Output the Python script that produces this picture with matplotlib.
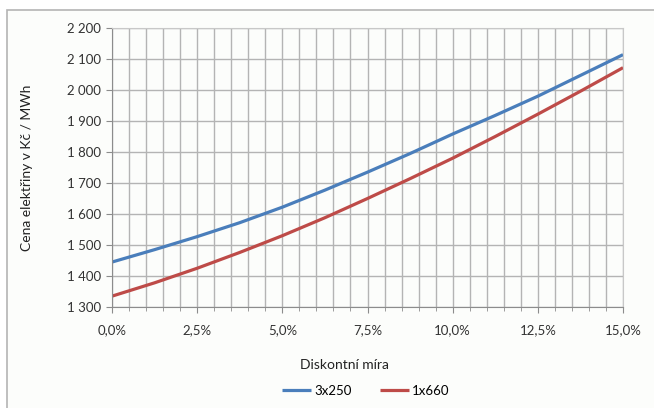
import matplotlib
matplotlib.use("Agg")
import matplotlib.pyplot as plt
from matplotlib.ticker import MultipleLocator, FuncFormatter
from matplotlib.patches import Rectangle

plt.rcParams['font.family'] = ['Lato', 'DejaVu Sans']

rates = [0.0, 1.25, 2.5, 3.75, 5.0, 6.25, 7.5, 8.75, 10.0, 11.25, 12.5, 13.75, 15.0]
s3x250 = [1445, 1485, 1527, 1572, 1622, 1677, 1735, 1795, 1858, 1918, 1980, 2047, 2114]
s1x660 = [1335, 1378, 1425, 1476, 1530, 1588, 1650, 1714, 1780, 1850, 1922, 1996, 2072]
series_names = ["3x250", "1x660"]
colors = ["#4a7ebb", "#be4b48"]

fig = plt.figure(figsize=(6.54, 4.08), dpi=100)
fig.patch.set_facecolor("white")
fig.add_artist(Rectangle((7/654, -0.01), 650/654, (408-10)/408 + 0.01, transform=fig.transFigure,
                         facecolor="#fcfdfb", edgecolor="#b4b4b4", linewidth=1.2, zorder=-10))

ax = fig.add_axes([112/654, (408-307)/408, (623-112)/654, (307-28)/408])
ax.set_facecolor("#fcfdfb")
for ys, name, c in zip([s3x250, s1x660], series_names, colors):
    ax.plot(rates, ys, color=c, lw=2.3, label=name, solid_capstyle="butt")

ax.set_xlim(0, 15)
ax.set_ylim(1300, 2200)
ax.xaxis.set_major_locator(MultipleLocator(2.5))
ax.xaxis.set_minor_locator(MultipleLocator(0.5))
ax.yaxis.set_major_locator(MultipleLocator(100))
ax.xaxis.set_major_formatter(FuncFormatter(lambda v, p: f"{v:.1f}%".replace(".", ",")))
ax.yaxis.set_major_formatter(FuncFormatter(lambda v, p: f"{int(v):,}".replace(",", " ")))
ax.grid(True, which="both", color="#b4b4b4", lw=1.0)
ax.set_axisbelow(True)
for s in ["top", "right"]:
    ax.spines[s].set_color("#c8c8c8")
for s in ["left", "bottom"]:
    ax.spines[s].set_color("#8c8c8c")
ax.tick_params(axis="both", which="major", length=4, color="#8c8c8c", labelsize=9.5, labelcolor="#333333", pad=4)
ax.tick_params(axis="x", which="minor", length=3, color="#8c8c8c")
ax.tick_params(axis="x", which="major", pad=8)

ax.set_xlabel("Diskontní míra", fontsize=10, color="#222222")
ax.xaxis.set_label_coords((344-112)/(623-112), -(359-307)/(307-28), transform=ax.transAxes)
ax.set_ylabel("Cena elektřiny v Kč / MWh", fontsize=10, color="#222222")
ax.yaxis.set_label_coords(-(112-33)/(623-112), 0.5)

ax.legend(loc="center", bbox_to_anchor=(366/654, (408-391)/408), bbox_transform=fig.transFigure,
          ncol=2, frameon=False, fontsize=9.5, handlelength=2.2, columnspacing=2.2, handletextpad=0.2)

fig.savefig("out.png", dpi=100)
